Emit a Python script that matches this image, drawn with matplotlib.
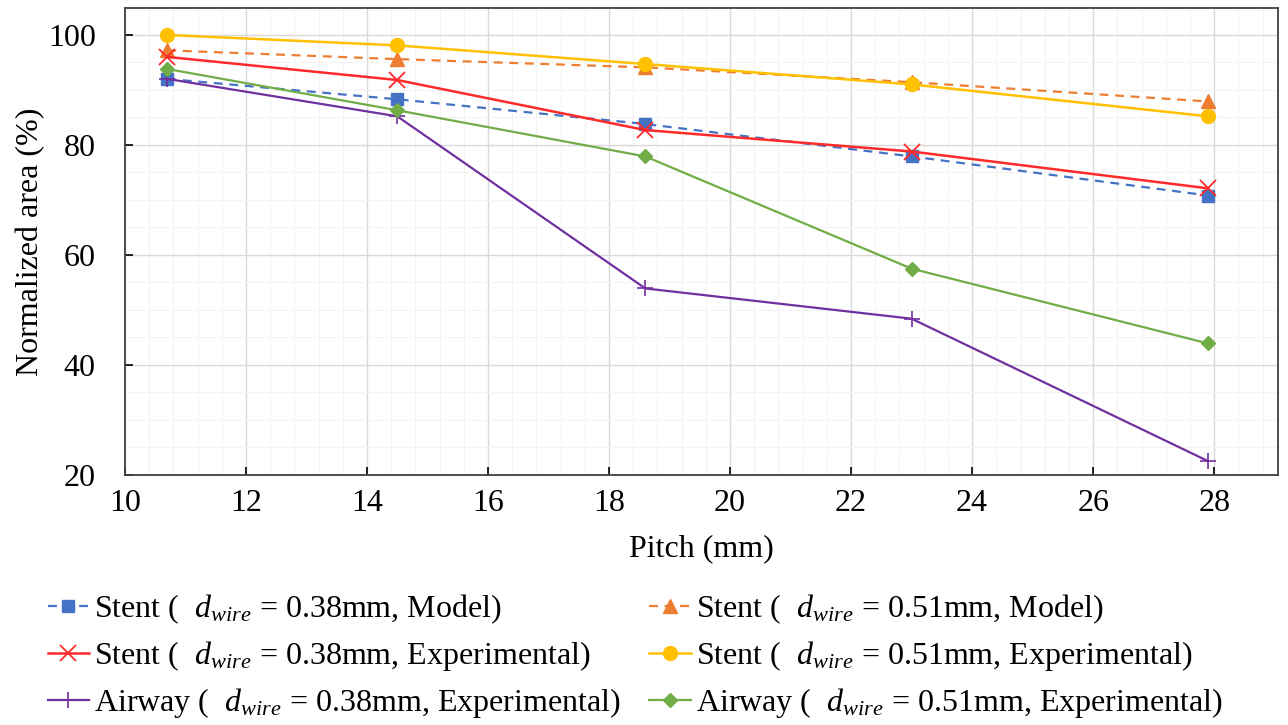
import matplotlib
matplotlib.use("Agg")
import matplotlib.pyplot as plt
from matplotlib.ticker import MultipleLocator

plt.rcParams['font.family'] = ['Liberation Serif', 'DejaVu Serif']
plt.rcParams['mathtext.fontset'] = 'custom'
plt.rcParams['mathtext.it'] = 'Liberation Serif:italic'
plt.rcParams['mathtext.rm'] = 'Liberation Serif'

pitch = [10.7, 14.5, 18.6, 23.0, 27.9]
stent_038_model = [92.0, 88.3, 83.8, 77.9, 70.8]
stent_051_model = [97.2, 95.6, 94.1, 91.4, 87.9]
stent_038_exp = [96.0, 91.8, 82.7, 78.8, 72.1]
stent_051_exp = [100.0, 98.1, 94.7, 91.0, 85.2]
airway_038_exp = [92.0, 85.2, 53.9, 48.4, 22.5]
airway_051_exp = [93.8, 86.3, 77.9, 57.5, 43.9]

labels = [
    r'Stent (  $d_{wire}$ = 0.38mm, Model)',
    r'Stent (  $d_{wire}$ = 0.51mm, Model)',
    r'Stent (  $d_{wire}$ = 0.38mm, Experimental)',
    r'Stent (  $d_{wire}$ = 0.51mm, Experimental)',
    r'Airway (  $d_{wire}$ = 0.38mm, Experimental)',
    r'Airway (  $d_{wire}$ = 0.51mm, Experimental)',
]

fig = plt.figure(figsize=(12.88, 7.25), dpi=100)
ax = fig.add_axes([0.097, 0.345, 0.895, 0.644])

h1, = ax.plot(pitch, stent_038_model, color='#4472C4', ls='--', lw=1.6, marker='s', ms=9, dashes=(4, 3))
h2, = ax.plot(pitch, stent_051_model, color='#ED7D31', ls='--', lw=1.6, marker='^', ms=10, dashes=(4, 3))
h3, = ax.plot(pitch, stent_038_exp, color='#FF2A2A', lw=1.8, marker='x', ms=11, mew=1.3)
h4, = ax.plot(pitch, stent_051_exp, color='#FFC000', lw=1.8, marker='o', ms=10)
h5, = ax.plot(pitch, airway_038_exp, color='#7030A0', lw=1.6, marker='+', ms=12, mew=1.2)
h6, = ax.plot(pitch, airway_051_exp, color='#70AD47', lw=1.6, marker='D', ms=7)

ax.set_xlim(10, 29.05)
ax.set_ylim(20, 104.9)
ax.xaxis.set_major_locator(MultipleLocator(2))
ax.xaxis.set_minor_locator(MultipleLocator(0.4))
ax.yaxis.set_major_locator(MultipleLocator(20))
ax.yaxis.set_minor_locator(MultipleLocator(5))
ax.grid(which='major', color='#d9d9d9', lw=1.0)
ax.grid(which='minor', color='#f3f3f3', lw=0.8)
ax.set_axisbelow(True)
ax.tick_params(axis='x', which='major', direction='in', length=6, width=1.2, labelsize=23, pad=10,
               top=False)
ax.tick_params(axis='y', which='major', direction='in', length=6, width=1.2, labelsize=23, pad=21,
               right=False)
ax.tick_params(which='minor', length=0)
for s in ax.spines.values():
    s.set_color('#404040')
    s.set_linewidth(1.3)

ax.set_xlabel('Pitch (mm)', fontsize=23, labelpad=12)
ax.set_ylabel('Normalized area (%)', fontsize=23, labelpad=2)

handles = [h1, h2, h3, h4, h5, h6]
order = [0, 2, 4, 1, 3, 5]
fig.legend([handles[i] for i in order], [labels[i] for i in order], ncol=2, loc='upper left',
           bbox_to_anchor=(0.027, 0.2), frameon=False, fontsize=23,
           handlelength=1.3, handletextpad=0.15, columnspacing=0.9,
           labelspacing=0.4, borderaxespad=0)

fig.savefig('out.png', dpi=100)
